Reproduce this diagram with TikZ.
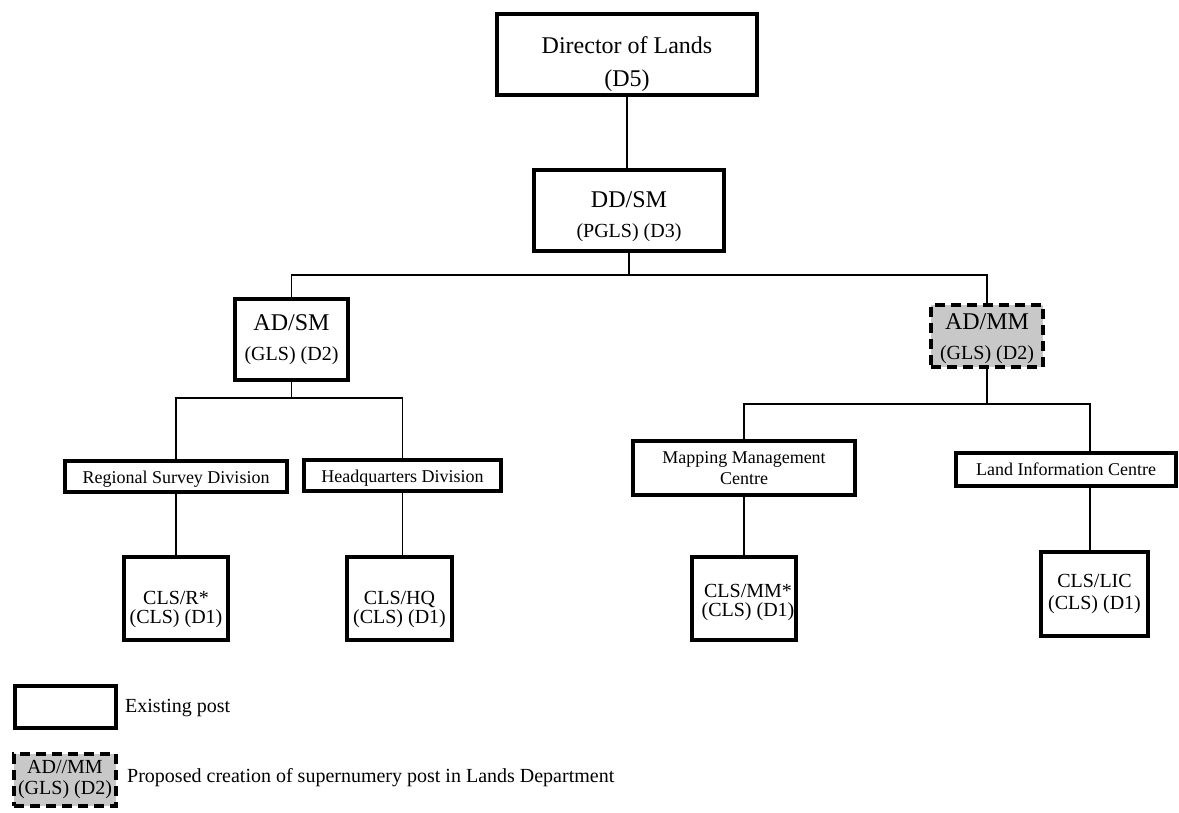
\documentclass[tikz,border=0pt]{standalone}
\usepackage{fontspec}
\setmainfont{Liberation Serif}
\definecolor{propfill}{RGB}{200,200,200}
\newcommand\fbig{\fontsize{24}{29}\selectfont}
\newcommand\fdir{\fontsize{24}{33}\selectfont}
\newcommand\fhead{\fontsize{20}{30}\selectfont}
\newcommand\fcls{\fontsize{20}{19}\selectfont}
\newcommand\fclsb{\fontsize{20}{22}\selectfont}
\newcommand\fdiv{\fontsize{18}{21}\selectfont}
\tikzset{
  post/.style={draw, line width=4pt, inner sep=0pt, align=center, fill=white},
  proposed/.style={draw, line width=4pt, dash pattern=on 10pt off 6pt,
                   fill=propfill, inner sep=0pt, align=center},
  % text placed at the box centre, moved down by #1, set in font #2
  caption/.style n args={3}{label={[inner sep=0pt, align=center,
                                    yshift=-#1pt, font=#2]center:#3}},
  link/.style={line width=1.4pt},
  legtext/.style={anchor=west, inner sep=0pt, font=\fontsize{20}{24}\selectfont},
}
\begin{document}
\begin{tikzpicture}[x=1pt, y=-1pt]
\useasboundingbox (0,0) rectangle (1179,813);

% top of the hierarchy
\node[post, minimum width=260, minimum height=81,
      caption={10}{\fdir}{Director of Lands\\(D5)}] (dir) at (627,54.5) {};
\node[post, minimum width=190, minimum height=81,
      caption={6}{\fhead}{{\fbig DD/SM}\\(PGLS) (D3)}] (dd) at (629,210.5) {};

% assistant directors
\node[post, minimum width=113, minimum height=81,
      caption={0}{\fhead}{{\fbig AD/SM}\\(GLS) (D2)}] (adsm) at (291.5,339.5) {};
\node[proposed, minimum width=112, minimum height=62,
      caption={3}{\fhead}{{\fbig AD/MM}\\(GLS) (D2)}] (admm) at (987,336) {};

% divisions and centres
\node[post, minimum width=222, minimum height=31,
      caption={3}{\fdiv}{Regional Survey Division}] (rsd) at (176,476) {};
\node[post, minimum width=197, minimum height=31,
      caption={3}{\fdiv}{Headquarters Division}] (hqd) at (402.5,475.5) {};
\node[post, minimum width=222, minimum height=54,
      caption={0}{\fdiv}{Mapping Management\\Centre}] (mmc) at (744,468) {};
\node[post, minimum width=220, minimum height=33,
      caption={0}{\fdiv}{Land Information Centre}] (lic) at (1066,469.5) {};

% chief land surveyors
\node[post, minimum width=104, minimum height=83,
      caption={11}{\fcls}{CLS/R*\\(CLS) (D1)}] (clsr) at (176,598.5) {};
\node[post, minimum width=105, minimum height=83,
      caption={11}{\fcls}{CLS/HQ\\(CLS) (D1)}] (clshq) at (399.5,598.5) {};
\node[post, minimum width=104, minimum height=83,
      caption={4}{\fcls}{\hspace*{8pt}CLS/MM*\\\hspace*{8pt}(CLS) (D1)}] (clsmm) at (744,598.5) {};
\node[post, minimum width=107, minimum height=84,
      caption={0}{\fclsb}{CLS/LIC\\(CLS) (D1)}] (clslic) at (1094.5,594) {};

% junction points of the reporting lines
\coordinate (j1) at (629,275);
\coordinate (j2) at (291.5,398);
\coordinate (j3) at (987,404);
\coordinate (licx) at (1090,0);

% reporting lines
\draw[link] (dir.south) -- (dir.south |- dd.north);
\draw[link] (dd.south) -- (j1);
\draw[link] (adsm.north) |- (j1) -| (admm.north);
\draw[link] (adsm.south) -- (j2);
\draw[link] (rsd.north) |- (j2) -| (hqd.north);
\draw[link] (admm.south) -- (j3);
\draw[link] (mmc.north) |- (j3) -| (lic.north -| licx);
\draw[link] (rsd.south) -- (clsr.north);
\draw[link] (hqd.south) -- (hqd.south |- clshq.north);
\draw[link] (mmc.south) -- (clsmm.north);
\draw[link] (lic.south -| licx) -- (clslic.north -| licx);

% legend
\node[post, minimum width=101, minimum height=42] (legexist) at (65.5,707) {};
\node[legtext] (legexisttext) at (125,708) {Existing post};
\node[proposed, font=\fontsize{20}{21}\selectfont, minimum width=102, minimum height=52] (legprop) at (65,780)
      {AD//MM\\(GLS) (D2)};
\node[legtext] (legproptext) at (127,778) {Proposed creation of supernumery post in Lands Department};
\end{tikzpicture}
\end{document}
